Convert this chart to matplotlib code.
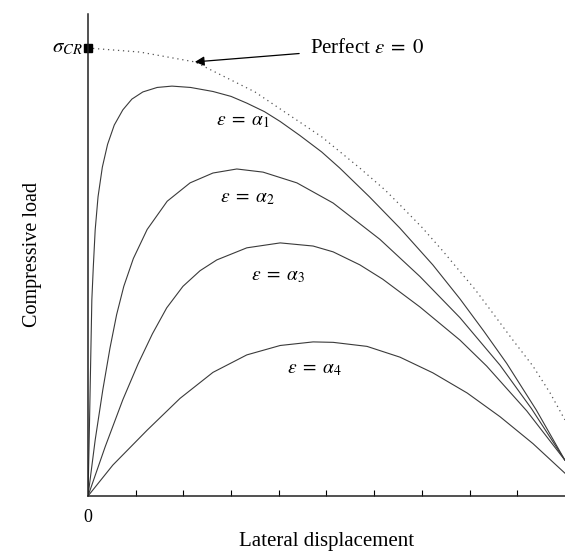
import matplotlib
matplotlib.use("Agg")
import matplotlib.pyplot as plt

plt.rcParams['font.family'] = ['Liberation Serif', 'DejaVu Serif']
plt.rcParams['mathtext.fontset'] = 'stix'

# displacement normalised to the plotted range, load normalised to sigma_CR
perfect_x = [0, 0.109, 0.224, 0.350, 0.491, 0.570, 0.623, 0.654, 0.700, 0.744,
             0.784, 0.811, 0.849, 0.891, 0.933, 0.969, 1.0]
perfect_y = [1.0, 0.991, 0.969, 0.902, 0.801, 0.732, 0.683, 0.650, 0.600, 0.547,
             0.496, 0.462, 0.408, 0.348, 0.290, 0.230, 0.170]

a1_x = [0, 0.002, 0.004, 0.006, 0.008, 0.011, 0.015, 0.021, 0.030, 0.041, 0.055,
        0.073, 0.092, 0.115, 0.145, 0.176, 0.215, 0.262, 0.300, 0.333, 0.370,
        0.403, 0.444, 0.490, 0.528, 0.590, 0.654, 0.723, 0.780, 0.830, 0.878,
        0.940, 1.0]
a1_y = [0, 0.103, 0.214, 0.326, 0.438, 0.510, 0.594, 0.668, 0.734, 0.785, 0.828,
        0.862, 0.886, 0.902, 0.912, 0.915, 0.912, 0.903, 0.892, 0.877, 0.858,
        0.836, 0.805, 0.768, 0.732, 0.668, 0.598, 0.516, 0.440, 0.368, 0.296,
        0.192, 0.080]

a2_x = [0, 0.015, 0.031, 0.046, 0.060, 0.075, 0.095, 0.124, 0.166, 0.214, 0.262,
        0.312, 0.367, 0.438, 0.514, 0.612, 0.696, 0.780, 0.864, 0.930, 1.0]
a2_y = [0, 0.125, 0.237, 0.330, 0.405, 0.468, 0.530, 0.595, 0.658, 0.699, 0.721,
        0.730, 0.723, 0.699, 0.654, 0.573, 0.490, 0.398, 0.292, 0.195, 0.080]

a3_x = [0, 0.036, 0.073, 0.105, 0.135, 0.165, 0.199, 0.235, 0.270, 0.333, 0.403,
        0.472, 0.514, 0.570, 0.618, 0.696, 0.780, 0.836, 0.920, 1.0]
a3_y = [0, 0.110, 0.215, 0.295, 0.362, 0.420, 0.468, 0.503, 0.527, 0.554, 0.565,
        0.558, 0.545, 0.516, 0.484, 0.422, 0.348, 0.290, 0.190, 0.080]

a4_x = [0, 0.052, 0.124, 0.193, 0.262, 0.333, 0.403, 0.472, 0.514, 0.585, 0.654,
        0.723, 0.795, 0.864, 0.933, 1.0]
a4_y = [0, 0.069, 0.147, 0.218, 0.276, 0.315, 0.336, 0.344, 0.343, 0.334, 0.310,
        0.275, 0.230, 0.177, 0.117, 0.051]

curve_labels = [r'$\varepsilon\;=\;\alpha_1$', r'$\varepsilon\;=\;\alpha_2$',
                r'$\varepsilon\;=\;\alpha_3$', r'$\varepsilon\;=\;\alpha_4$']
label_pos = [(0.325, 0.835), (0.334, 0.665), (0.399, 0.490), (0.474, 0.282)]

fig = plt.figure(figsize=(5.65, 5.55), dpi=100)
ax = fig.add_axes([0.1558, 0.1063, 0.844, 0.8685])

ax.plot(perfect_x, perfect_y, color='#555555', lw=0.9, ls=(0, (1, 3)))
for xs, ys in [(a1_x, a1_y), (a2_x, a2_y), (a3_x, a3_y), (a4_x, a4_y)]:
    ax.plot(xs, ys, color='#3a3a3a', lw=0.8)

ax.plot([0], [1.0], marker='s', color='black', markersize=6, clip_on=False)

for lab, (lx, ly) in zip(curve_labels, label_pos):
    ax.text(lx, ly, lab, fontsize=14, ha='center', va='center')

ax.text(-0.012, 1.0, r'$\sigma_{CR}$', fontsize=15, ha='right', va='center')
ax.annotate(r'Perfect $\varepsilon\;=\;0$', xy=(0.224, 0.969), xytext=(0.466, 1.0),
            fontsize=15, va='center', ha='left',
            arrowprops=dict(arrowstyle='-|>', color='black', lw=0.9,
                            mutation_scale=14, shrinkA=6, shrinkB=0))

ax.set_xlim(0, 1.0)
ax.set_ylim(0, 1.076)
ax.spines['top'].set_visible(False)
ax.spines['right'].set_visible(False)
for s in ['left', 'bottom']:
    ax.spines[s].set_linewidth(1.1)
    ax.spines[s].set_color('#222222')

ax.set_xticks([0])
ax.set_xticklabels(['0'], fontsize=13)
ax.set_xticks([i / 10 for i in range(1, 10)], minor=True)
ax.tick_params(axis='x', which='major', length=0, pad=9)
ax.tick_params(axis='x', which='minor', direction='in', length=4, width=0.8)
ax.set_yticks([])

ax.set_xlabel('Lateral displacement', fontsize=15, labelpad=5)
ax.set_ylabel('Compressive load', fontsize=14.5, labelpad=33)

fig.savefig('out.png', dpi=100)
